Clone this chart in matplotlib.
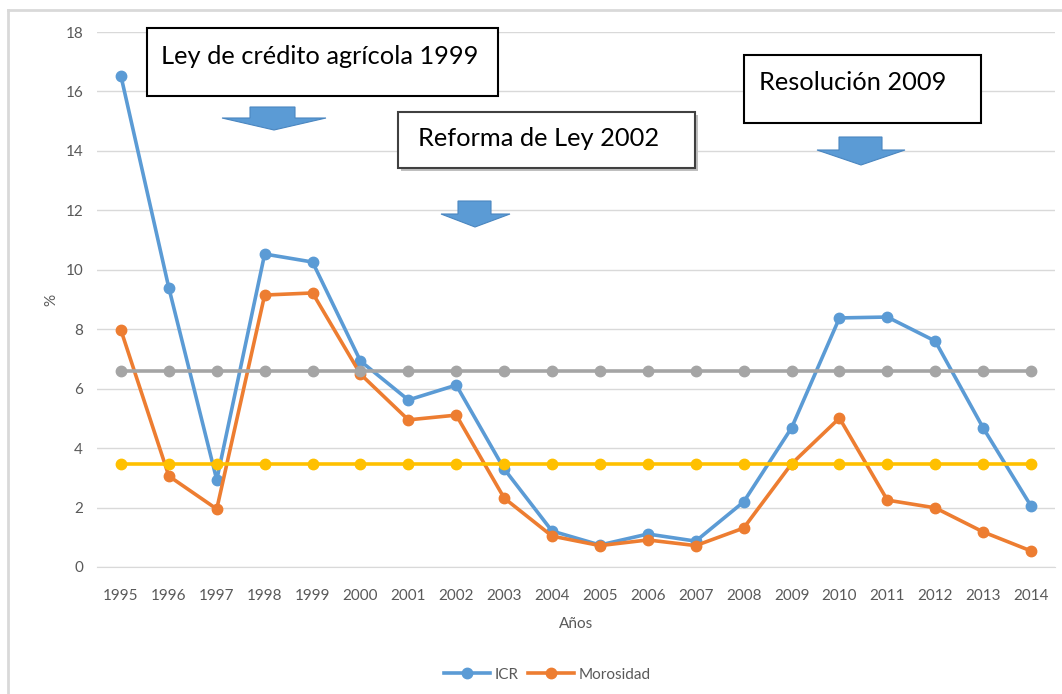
import matplotlib
matplotlib.use("Agg")
import matplotlib.pyplot as plt
from matplotlib.patches import Polygon, Rectangle

plt.rcParams['font.family'] = ['Lato', 'DejaVu Sans']

years = [str(y) for y in range(1995, 2015)]
icr = [16.52, 9.39, 2.93, 10.53, 10.26, 6.93, 5.62, 6.12, 3.30, 1.21,
       0.74, 1.11, 0.87, 2.19, 4.68, 8.38, 8.41, 7.60, 4.68, 2.05]
morosidad = [7.97, 3.06, 1.95, 9.15, 9.22, 6.49, 4.95, 5.11, 2.32, 1.04,
             0.72, 0.91, 0.72, 1.31, 3.47, 5.01, 2.25, 1.99, 1.18, 0.54]
icr_mean = [6.6] * len(years)
mor_mean = [3.47] * len(years)

W, H = 1062, 694
fig = plt.figure(figsize=(W / 100, H / 100), dpi=100)

def fx(px):
    return px / W

def fy(py):
    return 1 - py / H

ax = fig.add_axes([fx(97), fy(567), fx(1055) - fx(97), fy(32) - fy(567)])

x = list(range(len(years)))
c_icr = '#5B9BD5'
c_mor = '#ED7D31'
c_gray = '#A5A5A5'
c_yel = '#FFC000'
lw = 2.6
ms = 7.5
ax.plot(x, icr, color=c_icr, lw=lw, marker='o', ms=ms, label='ICR', zorder=3)
ax.plot(x, morosidad, color=c_mor, lw=lw, marker='o', ms=ms, label='Morosidad', zorder=4)
ax.plot(x, icr_mean, color=c_gray, lw=lw, marker='o', ms=ms, zorder=5)
ax.plot(x, mor_mean, color=c_yel, lw=lw, marker='o', ms=ms, zorder=6)

ax.set_xlim(-0.5, len(years) - 0.5)
ax.set_ylim(0, 18)
ax.set_yticks(range(0, 19, 2))
ax.set_xticks(x)
ax.set_xticklabels(years)
ax.grid(axis='y', color='#D9D9D9', lw=1)
ax.set_axisbelow(True)
for s in ['top', 'right', 'left']:
    ax.spines[s].set_visible(False)
ax.spines['bottom'].set_color('#D9D9D9')
ax.tick_params(axis='both', length=0, colors='#595959', labelsize=11)
ax.tick_params(axis='y', pad=10)
ax.tick_params(axis='x', pad=16)
ax.set_xlabel('Años', color='#595959', fontsize=11, labelpad=10)
ax.set_ylabel('%', color='#595959', fontsize=11, labelpad=5)

leg = ax.legend(loc='lower center', bbox_to_anchor=(0.47, -0.24), ncol=2, frameon=False,
                fontsize=11, handlelength=3.0, columnspacing=0.6, handletextpad=0.3,
                labelcolor='#595959')

# figure border (cropped chart area)
fig.add_artist(plt.Line2D([fx(8), fx(8)], [fy(10), 0], color='#D9D9D9', lw=2, transform=fig.transFigure))
fig.add_artist(plt.Line2D([fx(8), 1], [fy(10), fy(10)], color='#D9D9D9', lw=2, transform=fig.transFigure))

# annotation boxes
def box(x0, y0, x1, y1, text, tx, ty, fs, ec='black', lw=1.5, shadow=False):
    if shadow:
        fig.add_artist(Rectangle((fx(x0 + 3), fy(y1 + 3)), fx(x1) - fx(x0), fy(y0) - fy(y1),
                                 transform=fig.transFigure, fc='#BFBFBF', ec='none', zorder=9))
    fig.add_artist(Rectangle((fx(x0), fy(y1)), fx(x1) - fx(x0), fy(y0) - fy(y1),
                             transform=fig.transFigure, fc='white', ec=ec, lw=lw, zorder=10))
    fig.text(fx(tx), fy(ty), text, fontsize=fs, ha='left', va='center', color='black', zorder=11)

box(147, 28, 498, 96, 'Ley de crédito agrícola 1999', 161, 57, 18.3)
box(398, 112, 695, 168, 'Reforma de Ley 2002', 418, 139, 18.3, ec='#404040', lw=1.5, shadow=True)
box(744, 55, 981, 123, 'Resolución 2009', 759, 83, 18.3)

def arrow(sx0, sx1, top, mid, hx0, hx1, tipx, tipy):
    pts = [(sx0, top), (sx1, top), (sx1, mid), (hx1, mid), (tipx, tipy), (hx0, mid), (sx0, mid)]
    fig.add_artist(Polygon([(fx(a), fy(b)) for a, b in pts], closed=True, transform=fig.transFigure,
                           fc='#5B9BD5', ec='#4A86C0', lw=0.8, zorder=10))

arrow(250, 295, 107, 118, 222, 326, 274, 130)
arrow(458, 491, 201, 214, 441, 510, 475, 227)
arrow(839, 882, 137, 150, 817, 905, 861, 165)

fig.savefig('out.png', dpi=100, facecolor='white')
